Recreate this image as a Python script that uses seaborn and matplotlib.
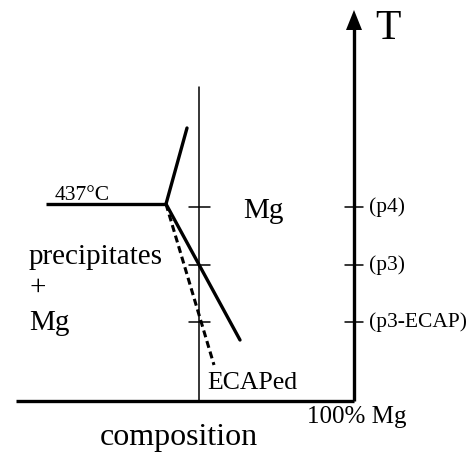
# -*- coding:utf-8 -*-

import pandas as pd
import matplotlib.pyplot as plt
import seaborn as sns

# Data (sketch units: composition to the right, T upwards, origin at axis corner)
comp_axis = [16, 354]
temp_axis_top = 391
eutectic_T = 197
eutectic_x = [46, 166]
solvus_up_x = [166, 187]
solvus_up_T = [197, 273]
solvus_x = [166, 240]
solvus_T = [197, 61]
ecap_x = [166, 214]
ecap_T = [197, 36]
alloy_x = 199
alloy_T = [0, 314]
tick_T = [194, 136, 79]
tick_labels = ["(p4)", "(p3)", "(p3-ECAP)"]

sns.set_style("white")
plt.rcParams["font.family"] = ["Liberation Serif", "DejaVu Serif"]
plt.rcParams["text.color"] = "black"

fig = plt.figure(figsize=(4.73, 4.53), dpi=100)
ax = fig.add_axes([0, 0, 1, 1])
ax.set_xlim(0, 473)
ax.set_ylim(-52, 401)
ax.axis("off")


def seg(x, y, **kw):
    df = pd.DataFrame({"x": x, "y": y})
    sns.lineplot(data=df, x="x", y="y", ax=ax, color="black",
                 estimator=None, sort=False, legend=False, **kw)


# composition axis and temperature axis
seg(comp_axis, [0, 0], lw=2.4, solid_capstyle="butt")
seg([comp_axis[1], comp_axis[1]], [0, temp_axis_top - 18], lw=2.4,
    solid_capstyle="butt")
ax.arrow(comp_axis[1], temp_axis_top - 20, 0, 0.01, width=0,
         head_width=16, head_length=20, color="black", lw=0)

# alloy line
seg([alloy_x, alloy_x], alloy_T, lw=1.1)

# phase boundaries
seg(eutectic_x, [eutectic_T, eutectic_T], lw=2.4, solid_capstyle="butt")
seg(solvus_up_x, solvus_up_T, lw=2.4)
seg(solvus_x, solvus_T, lw=2.4)
seg(ecap_x, ecap_T, lw=2.2, linestyle=(0, (2.3, 1.3)))

# ticks
for t, lab in zip(tick_T, tick_labels):
    seg([alloy_x - 10, alloy_x + 11], [t, t], lw=1.1)
    seg([comp_axis[1] - 9, comp_axis[1] + 9], [t, t], lw=1.1)
    ax.text(comp_axis[1] + 15, t, lab, fontsize=15.5, ha="left", va="center")

# labels
ax.text(55, 201, "437°C", fontsize=15.5, ha="left", va="baseline")
ax.text(243, 183, "Mg", fontsize=21, ha="left", va="baseline")
ax.text(29, 137, "precipitates", fontsize=21, ha="left", va="baseline")
ax.text(29, 113, "+", fontsize=21, ha="left", va="center")
ax.text(29, 71, "Mg", fontsize=21, ha="left", va="baseline")
ax.text(207, 12, "ECAPed", fontsize=18.5, ha="left", va="baseline")
ax.text(307, -22, "100% Mg", fontsize=18, ha="left", va="baseline")
ax.text(100, -44, "composition", fontsize=23, ha="left", va="baseline")
ax.text(375, 362, "T", fontsize=30, ha="left", va="baseline")

plt.savefig("out.png", dpi=100)
